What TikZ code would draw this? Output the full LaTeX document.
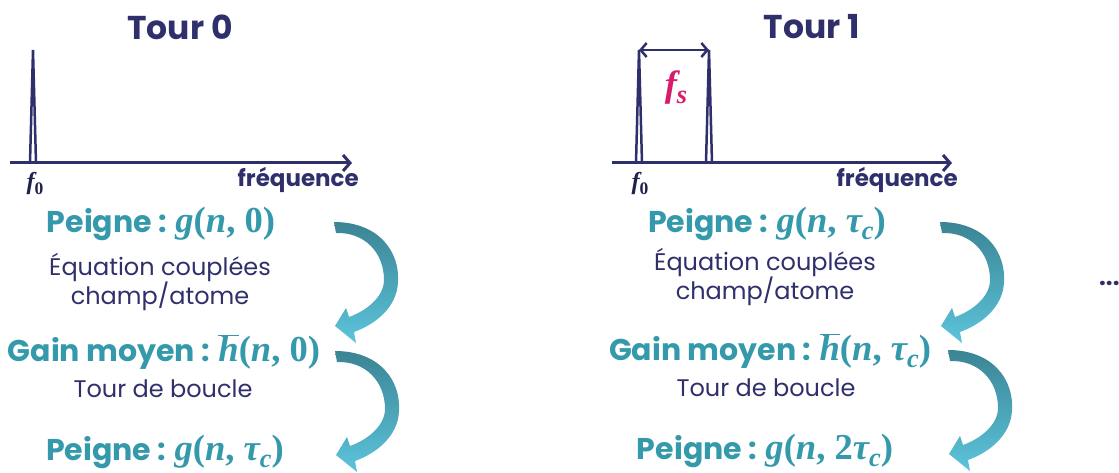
\documentclass[tikz,border=0pt]{standalone}
\usepackage{graphicx}
\usepackage{fontspec}
\setmainfont{Poppins}
\newfontfamily\mfont[Scale=1.22]{Liberation Serif}
\newcommand{\mitx}[1]{{\mfont\bfseries\itshape #1}}
\newcommand{\mupx}[1]{{\mfont\bfseries #1}}
\newcommand{\subx}[1]{\raisebox{-0.22em}{\scalebox{0.72}{#1}}}
\newcommand{\hbarx}{\ensuremath{\overline{\hbox{\mitx{h}}}}}
\usetikzlibrary{arrows.meta}
\definecolor{navy}{HTML}{2F306B}
\definecolor{myteal}{HTML}{3499AB}
\definecolor{arrdark}{HTML}{3B8494}
\definecolor{arrlight}{HTML}{5CC4DB}
\definecolor{mag}{HTML}{D81B6A}
\tikzset{
  titletext/.style={font=\fontsize{33}{36}\selectfont\bfseries, text=navy},
  freqtext/.style={font=\fontsize{23}{24}\selectfont\bfseries, text=navy, anchor=base east, inner sep=0pt},
  bigtext/.style={font=\fontsize{30}{34}\selectfont\bfseries\boldmath, text=myteal, inner sep=0pt},
  smalltext/.style={font=\fontsize{24}{28}\selectfont, text=navy, align=center, inner sep=0pt},
  ftext/.style={font=\fontsize{20}{24}\selectfont, text=navy!70!black, inner sep=0pt},
  axisline/.style={draw=navy, line width=3pt, -{Straight Barb[length=7pt,width=16pt]}},
  spike/.style={draw=navy, line width=2.5pt, line join=miter},
  curvarr/.pic={\shade[top color=arrdark, bottom color=arrlight]
    (0,0) .. controls (45,0) and (66,30) .. (64,60)
    .. controls (63,85) and (42,102) .. (20,110)
    -- (22,121) -- (1,104) -- (12,86) -- (15,95)
    .. controls (32,89) and (50,75) .. (50,58)
    .. controls (50,30) and (30,10) .. (2,11) -- cycle;}
}
\begin{document}
\begin{tikzpicture}[x=1pt,y=-1pt]
\useasboundingbox (0,0) rectangle (1119,473);
% ---------- Tour 0 ----------
\node[titletext] (t0) at (180,27) {Tour 0};
\coordinate (a0s) at (10,163);
\coordinate (a0e) at (352,163);
\draw[axisline] (a0s) -- (a0e);
\coordinate (s0a) at (30,163);
\coordinate (s0t) at (33,50);
\coordinate (s0b) at (36,163);
\draw[spike] (s0a) -- (s0t) -- (s0b);
\node[ftext] (f00) at (35,184) {\mitx{f}\subx{\mupx{0}}};
\node[freqtext] (fr0) at (359,187) {fréquence};
\node[bigtext] (p0) at (161,224) {Peigne : \mitx{g}\mupx{(}\mitx{n}\mupx{, 0)}};
\node[smalltext] (e0) at (160,282) {Équation couplées\\champ/atome};
\node[bigtext] (g0) at (164,352) {Gain moyen : \hbarx\mupx{(}\mitx{n}\mupx{, 0)}};
\node[smalltext] (b0) at (163,389) {Tour de boucle};
\node[bigtext] (p0b) at (165,452) {Peigne : \mitx{g}\mupx{(}\mitx{n}\mupx{, }\mitx{τ}\subx{\mitx{c}}\mupx{)}};
\pic at (334,222) {curvarr};
\pic at (335,351) {curvarr};
% ---------- Tour 1 ----------
\node[titletext] (t1) at (812,27) {Tour 1};
\coordinate (a1s) at (612,163);
\coordinate (a1e) at (952,163);
\draw[axisline] (a1s) -- (a1e);
\coordinate (s1a) at (636,163);
\coordinate (s1t) at (639,50);
\coordinate (s1b) at (642,163);
\draw[spike] (s1a) -- (s1t) -- (s1b);
\coordinate (s2a) at (706,163);
\coordinate (s2t) at (709,50);
\coordinate (s2b) at (712,163);
\draw[spike] (s2a) -- (s2t) -- (s2b);
\draw[draw=navy, line width=2.5pt, {Straight Barb[length=6pt,width=14pt]}-{Straight Barb[length=6pt,width=14pt]}] (s1t) -- (s2t);
\node[font=\fontsize{30}{32}\selectfont, text=mag, inner sep=0pt] (fs) at (676,88) {\mitx{f}\subx{\mitx{s}}};
\node[ftext] (f01) at (640,184) {\mitx{f}\subx{\mupx{0}}};
\node[freqtext] (fr1) at (958,187) {fréquence};
\node[bigtext] (p1) at (767,224) {Peigne : \mitx{g}\mupx{(}\mitx{n}\mupx{, }\mitx{τ}\subx{\mitx{c}}\mupx{)}};
\node[smalltext] (e1) at (765,277) {Équation couplées\\champ/atome};
\node[bigtext] (g1) at (770,351) {Gain moyen : \hbarx\mupx{(}\mitx{n}\mupx{, }\mitx{τ}\subx{\mitx{c}}\mupx{)}};
\node[smalltext] (b1) at (766,388) {Tour de boucle};
\node[bigtext] (p1b) at (765,451) {Peigne : \mitx{g}\mupx{(}\mitx{n}\mupx{, 2}\mitx{τ}\subx{\mitx{c}}\mupx{)}};
\pic at (940,222) {curvarr};
\pic at (948,350) {curvarr};
% ---------- dots ----------
\node[font=\fontsize{24}{26}\selectfont\bfseries, text=navy, anchor=west, inner sep=0pt] (dots) at (1099,283) {...};
\end{tikzpicture}
\end{document}
